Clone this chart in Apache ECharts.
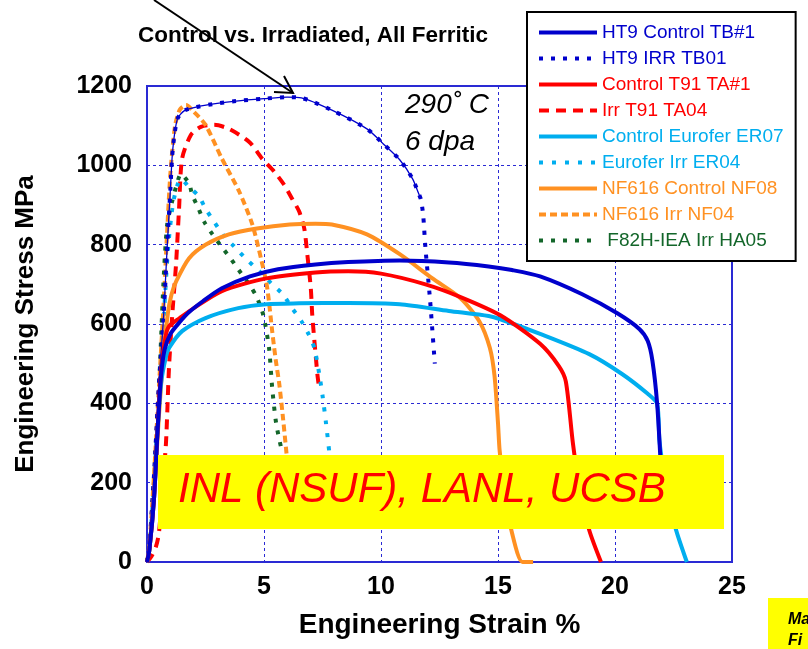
<!DOCTYPE html>
<html>
<head>
<meta charset="utf-8">
<script src="https://cdn.jsdelivr.net/npm/echarts/dist/echarts.min.js"></script>
<style>
html,body{margin:0;padding:0;background:#fff;}
#chart{width:808px;height:649px;}
</style>
</head>
<body>
<div id="chart"></div>
<script>
// ---- data: [strain %, stress MPa] ----
const seriesNames = [
  'HT9 Control TB#1', 'HT9 IRR TB01', 'Control T91 TA#1', 'Irr T91 TA04',
  'Control Eurofer ER07', 'Eurofer Irr ER04', 'NF616 Control NF08', 'NF616 Irr NF04',
  ' F82H-IEA Irr HA05'
];
const xTicks = [0, 5, 10, 15, 20, 25];
const yTicks = [0, 200, 400, 600, 800, 1000, 1200];

const ht9Control = [[0,0],[0.1,30],[0.3,160],[0.45,330],[0.6,470],[0.75,535],[1.0,575],[1.4,605],[1.8,630],[2.4,658],[3.2,690],[4.4,720],[5.6,738],[7.2,750],[8.6,756],[10.8,760],[12.9,755],[14.6,745],[15.6,736],[16.8,720],[18.6,675],[20.1,627],[21.05,587],[21.4,557],[21.6,507],[21.8,400],[21.95,250]];
const ht9Irr = [[0,0],[0.1,40],[0.3,220],[0.5,440],[0.7,610],[0.85,780],[1.0,940],[1.1,1040],[1.3,1117],[1.6,1138],[2.1,1147],[3.0,1156],[3.8,1162],[5.0,1168],[6.0,1172],[6.6,1170],[7.9,1139],[9.4,1092],[10.1,1054],[10.8,1014],[11.35,966],[11.6,930],[11.7,915],[11.8,876],[11.9,791],[12.1,658],[12.3,500]];
const t91Control = [[0,0],[0.1,30],[0.3,160],[0.45,330],[0.6,480],[0.8,570],[0.95,595],[1.4,615],[2.0,640],[3.2,683],[5.1,715],[7.2,730],[8.6,733],[10.0,727],[11.9,700],[13.4,668],[15.1,622],[16.8,550],[17.6,494],[17.9,455],[18.2,300],[18.5,180],[18.9,80],[19.4,0]];
const t91Irr = [[0,0],[0.2,15],[0.38,38],[0.51,73],[0.65,180],[0.81,299],[0.94,490],[1.1,640],[1.24,750],[1.37,891],[1.5,1017],[1.88,1077],[2.3,1097],[2.87,1102],[3.5,1092],[4.37,1059],[4.92,1017],[5.44,984],[5.86,951],[6.2,916],[6.5,884],[6.72,841],[6.85,776],[7.0,690],[7.06,625],[7.15,560],[7.28,474],[7.33,450]];
const eurControl = [[0,0],[0.1,30],[0.3,160],[0.45,330],[0.6,450],[0.8,515],[0.95,540],[1.5,582],[2.5,615],[3.9,640],[5.1,650],[6.5,652],[8.6,653],[10.8,650],[12.9,633],[14.6,620],[15.1,612],[16.8,575],[18.9,524],[20.3,474],[21.4,424],[21.8,399],[21.9,306],[22.1,220],[22.35,138],[22.65,73],[23.07,0]];
const eurIrr = [[0,0],[0.1,35],[0.3,200],[0.5,410],[0.7,600],[0.9,790],[1.1,900],[1.3,950],[1.45,965],[1.8,945],[2.23,921],[2.5,891],[3.3,821],[3.72,796],[4.2,766],[4.8,733],[5.3,703],[5.8,675],[6.2,640],[6.6,607],[6.9,575],[7.15,540],[7.36,474],[7.5,420],[7.65,350],[7.8,270],[7.85,220]];
const nf616Control = [[0,0],[0.1,30],[0.3,170],[0.5,360],[0.7,520],[0.9,630],[1.05,675],[1.25,708],[1.8,766],[2.5,800],[3.5,826],[4.7,841],[6.1,851],[7.2,853],[7.9,851],[9.4,826],[10.8,776],[12.2,715],[13.4,665],[14.2,607],[14.65,540],[14.85,470],[15.0,350],[15.07,281],[15.3,170],[15.6,73],[16.05,0],[16.5,0]];
const nf616Irr = [[0,0],[0.1,40],[0.3,220],[0.5,430],[0.7,640],[0.85,820],[1.0,980],[1.2,1100],[1.4,1140],[1.67,1152],[2.0,1135],[2.5,1102],[3.2,1017],[3.94,934],[4.5,851],[4.9,758],[5.14,690],[5.35,582],[5.5,510],[5.65,450],[5.8,370],[5.95,281],[6.05,220]];
const f82hIrr = [[0,0],[0.1,35],[0.3,210],[0.5,420],[0.7,700],[0.86,850],[1.07,908],[1.24,945],[1.45,978],[1.8,954],[1.93,926],[2.2,891],[2.44,858],[2.8,826],[3.17,796],[3.6,763],[4.02,728],[4.37,700],[4.67,670],[4.92,633],[5.05,600],[5.22,537],[5.35,439],[5.52,349],[5.74,286]];

const BLUE = '#0000cc', RED = '#ff0000', CYAN = '#00aeef', ORANGE = '#ff9122', GREEN = '#13662a';
const AXIS_BLUE = '#2a2ad4';
const FONT = 'Liberation Sans, Arial, sans-serif';

function mk(name, data, color, width, type, z) {
  return { name, type: 'line', data, symbol: 'none', smooth: 0.25, z: z || 2,
    lineStyle: { color, width, type, cap: 'butt', join: 'round' }, itemStyle: { color }, animation: false };
}

const series = [
  mk(seriesNames[1], ht9Irr, BLUE, 4, [4, 8], 3),
  { name: 'ht9IrrThin', type: 'line', data: ht9Irr.slice(0, 23), symbol: 'none', smooth: 0.25, z: 3,
    lineStyle: { color: BLUE, width: 1.3 }, animation: false },
  mk(seriesNames[3], t91Irr, RED, 4, [10, 7]),
  mk(seriesNames[5], eurIrr, CYAN, 4, [4, 9]),
  mk(seriesNames[7], nf616Irr, ORANGE, 4, [7, 4]),
  mk(seriesNames[8], f82hIrr, GREEN, 4, [4, 8]),
  mk(seriesNames[6], nf616Control, ORANGE, 4, 'solid', 4),
  mk(seriesNames[4], eurControl, CYAN, 4, 'solid', 4),
  mk(seriesNames[2], t91Control, RED, 4, 'solid', 4),
  mk(seriesNames[0], ht9Control, BLUE, 4, 'solid', 4)
];

const legendColors = [BLUE, BLUE, RED, RED, CYAN, CYAN, ORANGE, ORANGE, GREEN];

const option = {
  animation: false,
  backgroundColor: '#ffffff',
  textStyle: { fontFamily: FONT },
  grid: { left: 147, right: 76, top: 86, bottom: 87, show: true, borderColor: AXIS_BLUE, borderWidth: 2, backgroundColor: 'transparent' },
  xAxis: {
    type: 'value', min: xTicks[0], max: xTicks[xTicks.length - 1], interval: 5,
    name: 'Engineering Strain %', nameLocation: 'middle', nameGap: 49,
    nameTextStyle: { fontSize: 28, fontWeight: 'bold', color: '#000', fontFamily: FONT },
    axisLine: { show: true, lineStyle: { color: AXIS_BLUE, width: 2 } },
    axisTick: { show: false },
    axisLabel: { fontSize: 25, fontWeight: 'bold', color: '#000', margin: 13, fontFamily: FONT,
      formatter: v => String(v) },
    splitLine: { show: true, lineStyle: { color: AXIS_BLUE, width: 1, type: [3, 3] } }
  },
  yAxis: {
    type: 'value', min: yTicks[0], max: yTicks[yTicks.length - 1], interval: 200,
    name: 'Engineering Stress MPa', nameLocation: 'middle', nameGap: 108,
    nameTextStyle: { fontSize: 26, fontWeight: 'bold', color: '#000', fontFamily: FONT },
    axisLine: { show: true, lineStyle: { color: AXIS_BLUE, width: 2 } },
    axisTick: { show: false },
    axisLabel: { fontSize: 25, fontWeight: 'bold', color: '#000', margin: 15, fontFamily: FONT,
      formatter: v => String(v) },
    splitLine: { show: true, lineStyle: { color: AXIS_BLUE, width: 1, type: [3, 3] } }
  },
  legend: {
    orient: 'vertical', left: 527, top: 12,
    data: seriesNames.map((n, i) => ({ name: n, textStyle: { color: legendColors[i] } })),
    itemWidth: 58, itemHeight: 14, itemGap: 7,
    padding: [11, 12, 11, 10],
    backgroundColor: '#ffffff', borderColor: '#000000', borderWidth: 2, borderRadius: 0,
    lineStyle: { width: 'inherit' },
    itemStyle: { opacity: 0 },
    textStyle: { fontSize: 19, fontFamily: FONT },
    selectedMode: false
  },
  graphic: [
    { type: 'text', z: 100, left: 138, top: 24,
      style: { text: 'Control vs. Irradiated, All Ferritic', font: 'bold 22.5px ' + FONT, fill: '#000' } },
    { type: 'line', z: 101, shape: { x1: 154, y1: 0, x2: 293, y2: 93 }, style: { stroke: '#000', lineWidth: 2 } },
    { type: 'polyline', z: 101, shape: { points: [[284, 76], [293, 93], [274, 92]] }, style: { stroke: '#000', lineWidth: 2, fill: null } },
    { type: 'text', z: 100, left: 405, top: 91,
      style: { text: '290˚ C', font: 'italic 28px ' + FONT, fill: '#000' } },
    { type: 'text', z: 100, left: 405, top: 128,
      style: { text: '6 dpa', font: 'italic 28px ' + FONT, fill: '#000' } },
    { type: 'rect', z: 100, shape: { x: 158, y: 455, width: 566, height: 74 }, style: { fill: '#ffff00' } },
    { type: 'text', z: 101, left: 178, top: 469,
      style: { text: 'INL (NSUF), LANL, UCSB', font: 'italic 42px ' + FONT, fill: '#ff0000' } },
    { type: 'rect', z: 100, shape: { x: 768, y: 598, width: 40, height: 51 }, style: { fill: '#ffff00' } },
    { type: 'text', z: 101, left: 788, top: 609,
      style: { text: 'Ma\nFi', font: 'bold italic 16px ' + FONT, fill: '#000', lineHeight: 21 } }
  ],
  series
};

const chart = echarts.init(document.getElementById('chart'), null, { renderer: 'canvas' });
chart.setOption(option);
</script>
</body>
</html>
